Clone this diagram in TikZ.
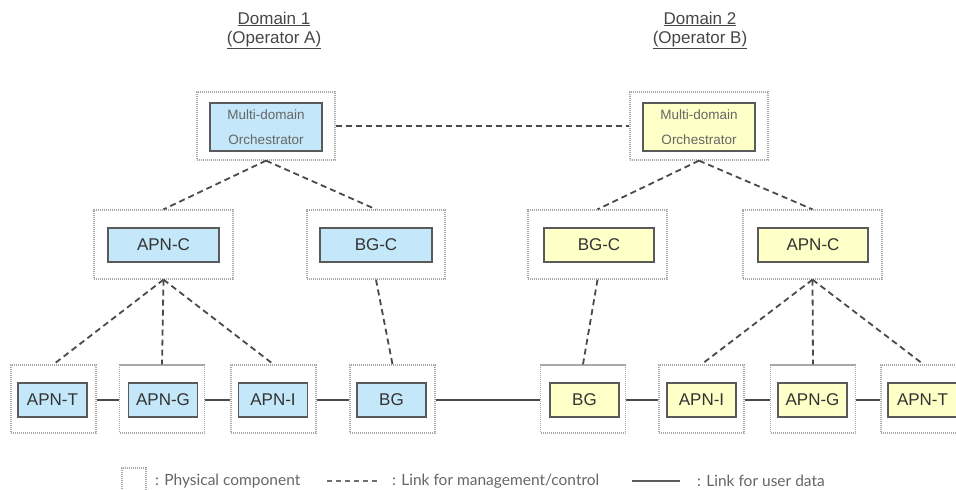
\documentclass[tikz,border=0pt]{standalone}
\usepackage{fontspec}
\setmainfont{Liberation Sans}
\newfontfamily\legfont{Lato}
\definecolor{bluefill}{HTML}{C4E7FA}
\definecolor{yelfill}{HTML}{FFFFC8}
\definecolor{boxline}{HTML}{5A5A5A}
\definecolor{dotline}{HTML}{A8A8A8}
\definecolor{linkc}{HTML}{4A4A4A}
\definecolor{textc}{HTML}{333333}
\definecolor{legc}{HTML}{666666}
\tikzset{
  outerbox/.style={draw=dotline, line width=1.3pt, dash pattern=on 1.1pt off 0.9pt, minimum width=85pt, minimum height=68pt, inner sep=0pt},
  innerbox/.style={draw=boxline, line width=1.5pt, minimum width=69pt, minimum height=34pt, inner sep=0pt, text=textc, font=\fontsize{17}{20}\selectfont},
  bluebox/.style={innerbox, fill=bluefill},
  yelbox/.style={innerbox, fill=yelfill},
  orchtext/.style={align=center, text=legc, font=\fontsize{13.5}{25}\selectfont},
  mgmt/.style={draw=linkc, line width=1.8pt, dash pattern=on 6pt off 4pt},
  udata/.style={draw=linkc, line width=1.8pt},
  title/.style={text=textc!90, font=\fontsize{17}{20}\selectfont},
  legtext/.style={text=legc, font=\legfont\fontsize{15.5}{18}\selectfont, anchor=west, inner sep=0pt}
}
\begin{document}
\begin{tikzpicture}[x=1pt,y=-1pt]
\clip (0,0) rectangle (956,490);
\fill[white] (0,0) rectangle (956,490);
% titles
\node[title] (t1a) at (274,19) {\underline{Domain 1}};
\node[title] (t1b) at (274,40) {\underline{(Operator A)}};
\node[title] (t2a) at (700,19) {\underline{Domain 2}};
\node[title] (t2b) at (700,40) {\underline{(Operator B)}};
% orchestrators
\node[outerbox, minimum width=138pt, minimum height=68pt] (o1) at (266,126) {};
\node[bluebox, minimum width=112pt, minimum height=48pt] (o1i) at (266,127) {};
\node[orchtext] (o1t) at (266,127) {Multi-domain\\Orchestrator};
\node[outerbox, minimum width=138pt, minimum height=68pt] (o2) at (699,126) {};
\node[yelbox, minimum width=112pt, minimum height=48pt] (o2i) at (699,127) {};
\node[orchtext] (o2t) at (699,127) {Multi-domain\\Orchestrator};
% middle row
\node[outerbox, minimum width=139pt, minimum height=69pt] (apnc1) at (163.5,244.5) {};
\node[bluebox, minimum width=111pt] (apnc1i) at (163.5,245) {APN-C};
\node[outerbox, minimum width=138pt, minimum height=69pt] (bgc1) at (376,244.5) {};
\node[bluebox, minimum width=112pt] (bgc1i) at (376,245) {BG-C};
\node[outerbox, minimum width=139pt, minimum height=69pt] (bgc2) at (597.5,244.5) {};
\node[yelbox, minimum width=110pt] (bgc2i) at (599,245) {BG-C};
\node[outerbox, minimum width=139pt, minimum height=69pt] (apnc2) at (812.5,244.5) {};
\node[yelbox, minimum width=110pt] (apnc2i) at (813,245) {APN-C};
% bottom row
\node[outerbox] (apnt1) at (53.5,399) {};
\node[bluebox] (apnt1i) at (52.5,400) {APN-T};
\node[outerbox] (apng1) at (162,399) {};
\node[bluebox] (apng1i) at (163,400) {APN-G};
\node[outerbox] (apni1) at (273.5,399) {};
\node[bluebox] (apni1i) at (273,400) {APN-I};
\node[outerbox] (bg1) at (392.5,399) {};
\node[bluebox] (bg1i) at (391.5,400) {BG};
\node[outerbox] (bg2) at (583,399) {};
\node[yelbox] (bg2i) at (584.5,400) {BG};
\node[outerbox] (apni2) at (701.5,399) {};
\node[yelbox] (apni2i) at (701.5,400) {APN-I};
\node[outerbox] (apng2) at (813,399) {};
\node[yelbox] (apng2i) at (812.5,400) {APN-G};
\node[outerbox] (apnt2) at (923.5,399) {};
\node[yelbox] (apnt2i) at (922.5,400) {APN-T};
% management links
\draw[mgmt] (o1.east) -- (o2.west);
\draw[mgmt] (o1.south) -- (apnc1.north);
\draw[mgmt] (o1.south) -- (bgc1.north);
\draw[mgmt] (o2.south) -- (bgc2.north);
\draw[mgmt] (o2.south) -- (apnc2.north);
\draw[mgmt] (apnc1.south) -- (apnt1.north);
\draw[mgmt] (apnc1.south) -- (apng1.north);
\draw[mgmt] (apnc1.south) -- (apni1.north);
\draw[mgmt] (bgc1.south) -- (bg1.north);
\draw[mgmt] (bgc2.south) -- (bg2.north);
\draw[mgmt] (apnc2.south) -- (apni2.north);
\draw[mgmt] (apnc2.south) -- (apng2.north);
\draw[mgmt] (apnc2.south) -- (apnt2.north);
% user data links
\draw[udata] (apnt1.east |- 0,400) -- (apng1.west |- 0,400);
\draw[udata] (apng1.east |- 0,400) -- (apni1.west |- 0,400);
\draw[udata] (apni1.east |- 0,400) -- (bg1.west |- 0,400);
\draw[udata] (bg1.east |- 0,400) -- (bg2.west |- 0,400);
\draw[udata] (bg2.east |- 0,400) -- (apni2.west |- 0,400);
\draw[udata] (apni2.east |- 0,400) -- (apng2.west |- 0,400);
\draw[udata] (apng2.east |- 0,400) -- (apnt2.west |- 0,400);
% legend
\node[outerbox, minimum width=24pt, minimum height=26pt] (legbox) at (134,481) {};
\node[legtext] (leg1) at (155,481) {: Physical component};
\coordinate (lm1) at (327,481);
\coordinate (lm2) at (377,481);
\draw[draw=linkc!80, line width=1.6pt, dash pattern=on 5pt off 4pt] (lm1) -- (lm2);
\node[legtext] (leg2) at (392,481) {: Link for management/control};
\coordinate (lu1) at (632,481);
\coordinate (lu2) at (680,481);
\draw[udata, draw=linkc!90] (lu1) -- (lu2);
\node[legtext] (leg3) at (697,481) {: Link for user data};
\end{tikzpicture}
\end{document}
